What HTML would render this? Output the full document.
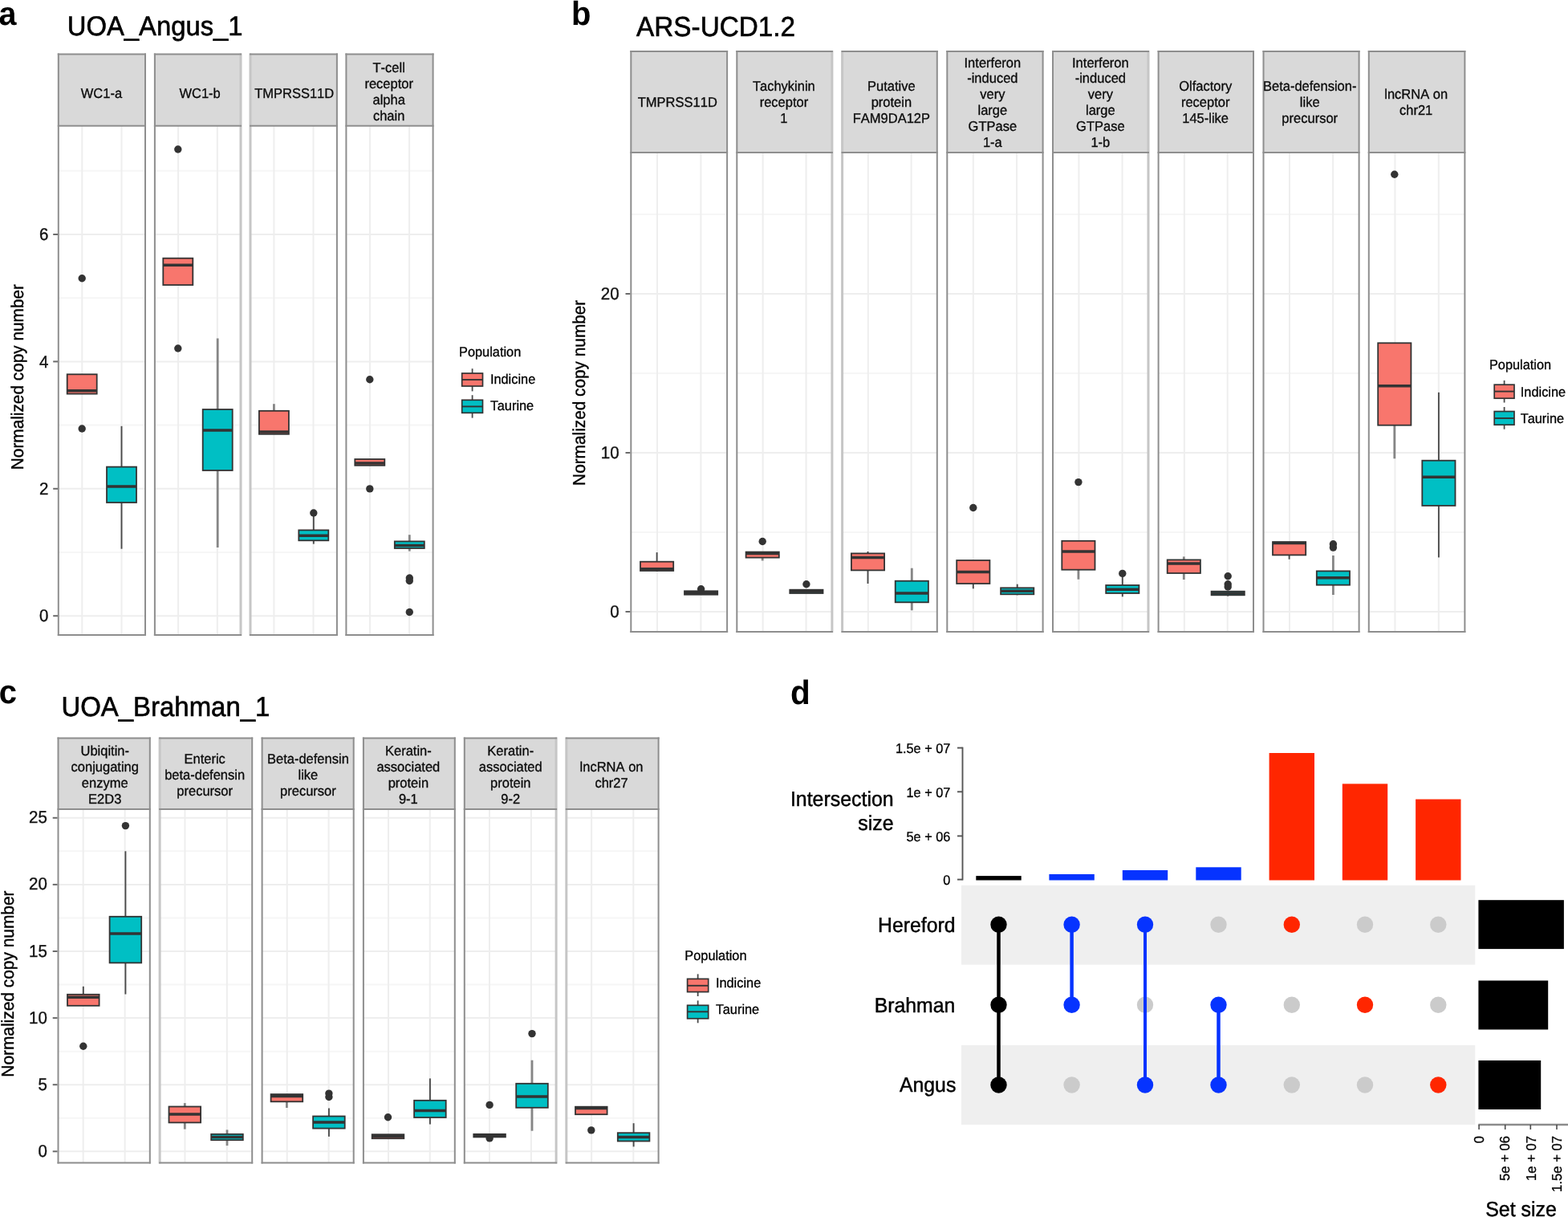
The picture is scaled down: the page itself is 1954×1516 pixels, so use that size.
<!DOCTYPE html>
<html lang="en">
<head>
<meta charset="utf-8">
<title>Figure: copy number variation and assembly intersections</title>
<style>
html,body{margin:0;padding:0;background:#ffffff;}
body{width:1954px;height:1516px;overflow:hidden;}
svg{display:block;font-family:"Liberation Sans", sans-serif;font-kerning:none;text-rendering:geometricPrecision;}
</style>
</head>
<body>
<svg width="1954" height="1516" viewBox="0 0 1954 1516">
<rect x="0" y="0" width="1954" height="1516" fill="#ffffff"/>
<g>
<g id="panel-a">
<text transform="translate(-1.50 30.60) scale(1 1.04)" font-size="39.5" text-anchor="start" font-weight="bold" fill="#000000">a</text>
<text transform="translate(83.80 44.00) scale(1 1.04)" font-size="32.8" text-anchor="start" fill="#000000" stroke="#000000" stroke-width="0.59">UOA_Angus_1</text>
<g>
<rect x="72.80" y="156.80" width="108.20" height="634.20" fill="#ffffff"/>
<line x1="72.80" x2="181.00" y1="688.00" y2="688.00" stroke="#f6f6f6" stroke-width="2"/>
<line x1="72.80" x2="181.00" y1="529.60" y2="529.60" stroke="#f6f6f6" stroke-width="2"/>
<line x1="72.80" x2="181.00" y1="371.20" y2="371.20" stroke="#f6f6f6" stroke-width="2"/>
<line x1="72.80" x2="181.00" y1="212.80" y2="212.80" stroke="#f6f6f6" stroke-width="2"/>
<line x1="72.80" x2="181.00" y1="767.20" y2="767.20" stroke="#eeeeee" stroke-width="2"/>
<line x1="72.80" x2="181.00" y1="608.80" y2="608.80" stroke="#eeeeee" stroke-width="2"/>
<line x1="72.80" x2="181.00" y1="450.40" y2="450.40" stroke="#eeeeee" stroke-width="2"/>
<line x1="72.80" x2="181.00" y1="292.00" y2="292.00" stroke="#eeeeee" stroke-width="2"/>
<line x1="102.31" x2="102.31" y1="156.80" y2="791.00" stroke="#eeeeee" stroke-width="2"/>
<line x1="151.49" x2="151.49" y1="156.80" y2="791.00" stroke="#eeeeee" stroke-width="2"/>
</g>
<g>
<rect x="192.90" y="156.80" width="107.10" height="634.20" fill="#ffffff"/>
<line x1="192.90" x2="300.00" y1="688.00" y2="688.00" stroke="#f6f6f6" stroke-width="2"/>
<line x1="192.90" x2="300.00" y1="529.60" y2="529.60" stroke="#f6f6f6" stroke-width="2"/>
<line x1="192.90" x2="300.00" y1="371.20" y2="371.20" stroke="#f6f6f6" stroke-width="2"/>
<line x1="192.90" x2="300.00" y1="212.80" y2="212.80" stroke="#f6f6f6" stroke-width="2"/>
<line x1="192.90" x2="300.00" y1="767.20" y2="767.20" stroke="#eeeeee" stroke-width="2"/>
<line x1="192.90" x2="300.00" y1="608.80" y2="608.80" stroke="#eeeeee" stroke-width="2"/>
<line x1="192.90" x2="300.00" y1="450.40" y2="450.40" stroke="#eeeeee" stroke-width="2"/>
<line x1="192.90" x2="300.00" y1="292.00" y2="292.00" stroke="#eeeeee" stroke-width="2"/>
<line x1="222.11" x2="222.11" y1="156.80" y2="791.00" stroke="#eeeeee" stroke-width="2"/>
<line x1="270.79" x2="270.79" y1="156.80" y2="791.00" stroke="#eeeeee" stroke-width="2"/>
</g>
<g>
<rect x="312.00" y="156.80" width="107.90" height="634.20" fill="#ffffff"/>
<line x1="312.00" x2="419.90" y1="688.00" y2="688.00" stroke="#f6f6f6" stroke-width="2"/>
<line x1="312.00" x2="419.90" y1="529.60" y2="529.60" stroke="#f6f6f6" stroke-width="2"/>
<line x1="312.00" x2="419.90" y1="371.20" y2="371.20" stroke="#f6f6f6" stroke-width="2"/>
<line x1="312.00" x2="419.90" y1="212.80" y2="212.80" stroke="#f6f6f6" stroke-width="2"/>
<line x1="312.00" x2="419.90" y1="767.20" y2="767.20" stroke="#eeeeee" stroke-width="2"/>
<line x1="312.00" x2="419.90" y1="608.80" y2="608.80" stroke="#eeeeee" stroke-width="2"/>
<line x1="312.00" x2="419.90" y1="450.40" y2="450.40" stroke="#eeeeee" stroke-width="2"/>
<line x1="312.00" x2="419.90" y1="292.00" y2="292.00" stroke="#eeeeee" stroke-width="2"/>
<line x1="341.42" x2="341.42" y1="156.80" y2="791.00" stroke="#eeeeee" stroke-width="2"/>
<line x1="390.48" x2="390.48" y1="156.80" y2="791.00" stroke="#eeeeee" stroke-width="2"/>
</g>
<g>
<rect x="431.40" y="156.80" width="108.20" height="634.20" fill="#ffffff"/>
<line x1="431.40" x2="539.60" y1="688.00" y2="688.00" stroke="#f6f6f6" stroke-width="2"/>
<line x1="431.40" x2="539.60" y1="529.60" y2="529.60" stroke="#f6f6f6" stroke-width="2"/>
<line x1="431.40" x2="539.60" y1="371.20" y2="371.20" stroke="#f6f6f6" stroke-width="2"/>
<line x1="431.40" x2="539.60" y1="212.80" y2="212.80" stroke="#f6f6f6" stroke-width="2"/>
<line x1="431.40" x2="539.60" y1="767.20" y2="767.20" stroke="#eeeeee" stroke-width="2"/>
<line x1="431.40" x2="539.60" y1="608.80" y2="608.80" stroke="#eeeeee" stroke-width="2"/>
<line x1="431.40" x2="539.60" y1="450.40" y2="450.40" stroke="#eeeeee" stroke-width="2"/>
<line x1="431.40" x2="539.60" y1="292.00" y2="292.00" stroke="#eeeeee" stroke-width="2"/>
<line x1="460.91" x2="460.91" y1="156.80" y2="791.00" stroke="#eeeeee" stroke-width="2"/>
<line x1="510.09" x2="510.09" y1="156.80" y2="791.00" stroke="#eeeeee" stroke-width="2"/>
</g>
<circle cx="102.20" cy="346.80" r="4.7" fill="#333333"/>
<circle cx="102.20" cy="534.00" r="4.7" fill="#333333"/>
<rect x="83.70" y="466.30" width="37.00" height="24.30" fill="#F8766D" stroke="#333333" stroke-width="1.8"/>
<line x1="83.70" x2="120.70" y1="486.70" y2="486.70" stroke="#333333" stroke-width="3.5"/>
<line x1="151.50" x2="151.50" y1="530.80" y2="581.60" stroke="#4a4a4a" stroke-width="1.9"/>
<line x1="151.50" x2="151.50" y1="626.00" y2="683.70" stroke="#4a4a4a" stroke-width="1.9"/>
<rect x="133.00" y="581.60" width="37.00" height="44.40" fill="#00BFC4" stroke="#333333" stroke-width="1.8"/>
<line x1="133.00" x2="170.00" y1="606.00" y2="606.00" stroke="#333333" stroke-width="3.5"/>
<circle cx="221.80" cy="186.00" r="4.7" fill="#333333"/>
<circle cx="221.80" cy="434.00" r="4.7" fill="#333333"/>
<rect x="203.30" y="321.70" width="37.00" height="33.30" fill="#F8766D" stroke="#333333" stroke-width="1.8"/>
<line x1="203.30" x2="240.30" y1="330.30" y2="330.30" stroke="#333333" stroke-width="3.5"/>
<line x1="271.20" x2="271.20" y1="421.50" y2="510.00" stroke="#868686" stroke-width="2.8"/>
<line x1="271.20" x2="271.20" y1="586.00" y2="682.00" stroke="#868686" stroke-width="2.8"/>
<rect x="252.70" y="510.00" width="37.00" height="76.00" fill="#00BFC4" stroke="#333333" stroke-width="1.8"/>
<line x1="252.70" x2="289.70" y1="536.10" y2="536.10" stroke="#333333" stroke-width="3.5"/>
<line x1="341.40" x2="341.40" y1="503.20" y2="511.80" stroke="#868686" stroke-width="2.8"/>
<rect x="322.90" y="511.80" width="37.00" height="29.00" fill="#F8766D" stroke="#333333" stroke-width="1.8"/>
<line x1="322.90" x2="359.90" y1="537.90" y2="537.90" stroke="#333333" stroke-width="3.5"/>
<line x1="390.80" x2="390.80" y1="639.00" y2="660.40" stroke="#4a4a4a" stroke-width="1.9"/>
<line x1="390.80" x2="390.80" y1="673.30" y2="677.60" stroke="#4a4a4a" stroke-width="1.9"/>
<circle cx="390.80" cy="639.00" r="4.7" fill="#333333"/>
<rect x="372.30" y="660.40" width="37.00" height="12.90" fill="#00BFC4" stroke="#333333" stroke-width="1.8"/>
<line x1="372.30" x2="409.30" y1="667.20" y2="667.20" stroke="#333333" stroke-width="3.5"/>
<circle cx="460.80" cy="472.70" r="4.7" fill="#333333"/>
<circle cx="460.80" cy="608.90" r="4.7" fill="#333333"/>
<rect x="442.30" y="572.00" width="37.00" height="7.80" fill="#F8766D" stroke="#333333" stroke-width="1.8"/>
<line x1="442.30" x2="479.30" y1="577.00" y2="577.00" stroke="#333333" stroke-width="3.5"/>
<line x1="510.30" x2="510.30" y1="666.20" y2="674.40" stroke="#868686" stroke-width="2.8"/>
<line x1="510.30" x2="510.30" y1="683.00" y2="686.60" stroke="#868686" stroke-width="2.8"/>
<circle cx="510.30" cy="720.00" r="4.7" fill="#333333"/>
<circle cx="510.30" cy="723.50" r="4.7" fill="#333333"/>
<circle cx="510.30" cy="762.50" r="4.7" fill="#333333"/>
<rect x="491.80" y="674.40" width="37.00" height="8.60" fill="#00BFC4" stroke="#333333" stroke-width="1.8"/>
<line x1="491.80" x2="528.80" y1="679.40" y2="679.40" stroke="#333333" stroke-width="3.5"/>
<rect x="72.80" y="67.40" width="108.20" height="89.40" fill="#d9d9d9"/>
<line x1="72.80" x2="72.80" y1="66.40" y2="792.00" stroke="#8e8e8e" stroke-width="2.0"/>
<line x1="181.00" x2="181.00" y1="66.40" y2="792.00" stroke="#8e8e8e" stroke-width="2.0"/>
<line x1="71.80" x2="182.00" y1="67.40" y2="67.40" stroke="#8e8e8e" stroke-width="2.0"/>
<line x1="71.80" x2="182.00" y1="156.80" y2="156.80" stroke="#8e8e8e" stroke-width="2.0"/>
<line x1="71.80" x2="182.00" y1="791.00" y2="791.00" stroke="#8e8e8e" stroke-width="2.0"/>
<text transform="translate(126.45 121.90) scale(1 1.04)" font-size="16.5" text-anchor="middle" fill="#0a0a0a" stroke="#0a0a0a" stroke-width="0.30">WC1-a</text>
<rect x="192.90" y="67.40" width="107.10" height="89.40" fill="#d9d9d9"/>
<line x1="192.90" x2="192.90" y1="66.40" y2="792.00" stroke="#8e8e8e" stroke-width="2.0"/>
<line x1="300.00" x2="300.00" y1="66.40" y2="792.00" stroke="#c6c6c6" stroke-width="3.0"/>
<line x1="191.90" x2="301.00" y1="67.40" y2="67.40" stroke="#8e8e8e" stroke-width="2.0"/>
<line x1="191.90" x2="301.00" y1="156.80" y2="156.80" stroke="#8e8e8e" stroke-width="2.0"/>
<line x1="191.90" x2="301.00" y1="791.00" y2="791.00" stroke="#8e8e8e" stroke-width="2.0"/>
<text transform="translate(249.10 121.90) scale(1 1.04)" font-size="16.5" text-anchor="middle" fill="#0a0a0a" stroke="#0a0a0a" stroke-width="0.30">WC1-b</text>
<rect x="312.00" y="67.40" width="107.90" height="89.40" fill="#d9d9d9"/>
<line x1="312.00" x2="312.00" y1="66.40" y2="792.00" stroke="#c6c6c6" stroke-width="3.0"/>
<line x1="419.90" x2="419.90" y1="66.40" y2="792.00" stroke="#8e8e8e" stroke-width="2.0"/>
<line x1="311.00" x2="420.90" y1="67.40" y2="67.40" stroke="#8e8e8e" stroke-width="2.0"/>
<line x1="311.00" x2="420.90" y1="156.80" y2="156.80" stroke="#8e8e8e" stroke-width="2.0"/>
<line x1="311.00" x2="420.90" y1="791.00" y2="791.00" stroke="#8e8e8e" stroke-width="2.0"/>
<text transform="translate(366.70 121.90) scale(1 1.04)" font-size="16.5" text-anchor="middle" fill="#0a0a0a" stroke="#0a0a0a" stroke-width="0.30">TMPRSS11D</text>
<rect x="431.40" y="67.40" width="108.20" height="89.40" fill="#d9d9d9"/>
<line x1="431.40" x2="431.40" y1="66.40" y2="792.00" stroke="#8e8e8e" stroke-width="2.0"/>
<line x1="539.60" x2="539.60" y1="66.40" y2="792.00" stroke="#8e8e8e" stroke-width="2.0"/>
<line x1="430.40" x2="540.60" y1="67.40" y2="67.40" stroke="#8e8e8e" stroke-width="2.0"/>
<line x1="430.40" x2="540.60" y1="156.80" y2="156.80" stroke="#8e8e8e" stroke-width="2.0"/>
<line x1="430.40" x2="540.60" y1="791.00" y2="791.00" stroke="#8e8e8e" stroke-width="2.0"/>
<text transform="translate(484.65 89.76) scale(1 1.04)" font-size="16.5" text-anchor="middle" fill="#0a0a0a" stroke="#0a0a0a" stroke-width="0.30">T-cell</text>
<text transform="translate(484.65 109.72) scale(1 1.04)" font-size="16.5" text-anchor="middle" fill="#0a0a0a" stroke="#0a0a0a" stroke-width="0.30">receptor</text>
<text transform="translate(484.65 129.68) scale(1 1.04)" font-size="16.5" text-anchor="middle" fill="#0a0a0a" stroke="#0a0a0a" stroke-width="0.30">alpha</text>
<text transform="translate(484.65 149.64) scale(1 1.04)" font-size="16.5" text-anchor="middle" fill="#0a0a0a" stroke="#0a0a0a" stroke-width="0.30">chain</text>
<line x1="66.20" x2="72.00" y1="767.20" y2="767.20" stroke="#6a6a6a" stroke-width="2"/>
<text transform="translate(60.30 774.35) scale(1 1.04)" font-size="20.5" text-anchor="end" fill="#111111" stroke="#111111" stroke-width="0.37">0</text>
<line x1="66.20" x2="72.00" y1="608.80" y2="608.80" stroke="#6a6a6a" stroke-width="2"/>
<text transform="translate(60.30 615.95) scale(1 1.04)" font-size="20.5" text-anchor="end" fill="#111111" stroke="#111111" stroke-width="0.37">2</text>
<line x1="66.20" x2="72.00" y1="450.40" y2="450.40" stroke="#6a6a6a" stroke-width="2"/>
<text transform="translate(60.30 457.55) scale(1 1.04)" font-size="20.5" text-anchor="end" fill="#111111" stroke="#111111" stroke-width="0.37">4</text>
<line x1="66.20" x2="72.00" y1="292.00" y2="292.00" stroke="#6a6a6a" stroke-width="2"/>
<text transform="translate(60.30 299.15) scale(1 1.04)" font-size="20.5" text-anchor="end" fill="#111111" stroke="#111111" stroke-width="0.37">6</text>
<text transform="translate(28.50 469.60) rotate(-90) scale(1 1.04)" font-size="20.8" text-anchor="middle" fill="#000000" stroke="#000000" stroke-width="0.37">Normalized copy number</text>
<text transform="translate(572.00 443.70) scale(1 1.04)" font-size="16.35" text-anchor="start" fill="#000000" stroke="#000000" stroke-width="0.29">Population</text>
<line x1="588.60" x2="588.60" y1="459.20" y2="487.40" stroke="#4a4a4a" stroke-width="1.8"/>
<rect x="575.70" y="465.00" width="25.80" height="16.00" fill="#F8766D" stroke="#333333" stroke-width="1.7"/>
<line x1="575.70" x2="601.50" y1="473.00" y2="473.00" stroke="#333333" stroke-width="1.9"/>
<text transform="translate(610.90 478.00) scale(1 1.04)" font-size="16.35" text-anchor="start" fill="#000000" stroke="#000000" stroke-width="0.29">Indicine</text>
<line x1="588.60" x2="588.60" y1="492.20" y2="520.60" stroke="#4a4a4a" stroke-width="1.8"/>
<rect x="575.70" y="498.30" width="25.80" height="16.00" fill="#00BFC4" stroke="#333333" stroke-width="1.7"/>
<line x1="575.70" x2="601.50" y1="506.40" y2="506.40" stroke="#333333" stroke-width="1.9"/>
<text transform="translate(610.90 511.00) scale(1 1.04)" font-size="16.35" text-anchor="start" fill="#000000" stroke="#000000" stroke-width="0.29" dx="0 -1.1">Taurine</text>
</g>
<g id="panel-b">
<text transform="translate(712.00 30.60) scale(1 1.04)" font-size="40" text-anchor="start" font-weight="bold" fill="#000000">b</text>
<text transform="translate(793.10 45.30) scale(1 1.04)" font-size="33.3" text-anchor="start" fill="#000000" stroke="#000000" stroke-width="0.60">ARS-UCD1.2</text>
<g>
<rect x="786.30" y="190.00" width="119.80" height="596.90" fill="#ffffff"/>
<line x1="786.30" x2="906.10" y1="663.00" y2="663.00" stroke="#f6f6f6" stroke-width="2"/>
<line x1="786.30" x2="906.10" y1="465.00" y2="465.00" stroke="#f6f6f6" stroke-width="2"/>
<line x1="786.30" x2="906.10" y1="267.00" y2="267.00" stroke="#f6f6f6" stroke-width="2"/>
<line x1="786.30" x2="906.10" y1="762.00" y2="762.00" stroke="#eeeeee" stroke-width="2"/>
<line x1="786.30" x2="906.10" y1="564.00" y2="564.00" stroke="#eeeeee" stroke-width="2"/>
<line x1="786.30" x2="906.10" y1="366.00" y2="366.00" stroke="#eeeeee" stroke-width="2"/>
<line x1="818.97" x2="818.97" y1="190.00" y2="786.90" stroke="#eeeeee" stroke-width="2"/>
<line x1="873.43" x2="873.43" y1="190.00" y2="786.90" stroke="#eeeeee" stroke-width="2"/>
</g>
<g>
<rect x="918.30" y="190.00" width="118.60" height="596.90" fill="#ffffff"/>
<line x1="918.30" x2="1036.90" y1="663.00" y2="663.00" stroke="#f6f6f6" stroke-width="2"/>
<line x1="918.30" x2="1036.90" y1="465.00" y2="465.00" stroke="#f6f6f6" stroke-width="2"/>
<line x1="918.30" x2="1036.90" y1="267.00" y2="267.00" stroke="#f6f6f6" stroke-width="2"/>
<line x1="918.30" x2="1036.90" y1="762.00" y2="762.00" stroke="#eeeeee" stroke-width="2"/>
<line x1="918.30" x2="1036.90" y1="564.00" y2="564.00" stroke="#eeeeee" stroke-width="2"/>
<line x1="918.30" x2="1036.90" y1="366.00" y2="366.00" stroke="#eeeeee" stroke-width="2"/>
<line x1="950.64" x2="950.64" y1="190.00" y2="786.90" stroke="#eeeeee" stroke-width="2"/>
<line x1="1004.56" x2="1004.56" y1="190.00" y2="786.90" stroke="#eeeeee" stroke-width="2"/>
</g>
<g>
<rect x="1049.60" y="190.00" width="118.20" height="596.90" fill="#ffffff"/>
<line x1="1049.60" x2="1167.80" y1="663.00" y2="663.00" stroke="#f6f6f6" stroke-width="2"/>
<line x1="1049.60" x2="1167.80" y1="465.00" y2="465.00" stroke="#f6f6f6" stroke-width="2"/>
<line x1="1049.60" x2="1167.80" y1="267.00" y2="267.00" stroke="#f6f6f6" stroke-width="2"/>
<line x1="1049.60" x2="1167.80" y1="762.00" y2="762.00" stroke="#eeeeee" stroke-width="2"/>
<line x1="1049.60" x2="1167.80" y1="564.00" y2="564.00" stroke="#eeeeee" stroke-width="2"/>
<line x1="1049.60" x2="1167.80" y1="366.00" y2="366.00" stroke="#eeeeee" stroke-width="2"/>
<line x1="1081.83" x2="1081.83" y1="190.00" y2="786.90" stroke="#eeeeee" stroke-width="2"/>
<line x1="1135.57" x2="1135.57" y1="190.00" y2="786.90" stroke="#eeeeee" stroke-width="2"/>
</g>
<g>
<rect x="1180.30" y="190.00" width="119.30" height="596.90" fill="#ffffff"/>
<line x1="1180.30" x2="1299.60" y1="663.00" y2="663.00" stroke="#f6f6f6" stroke-width="2"/>
<line x1="1180.30" x2="1299.60" y1="465.00" y2="465.00" stroke="#f6f6f6" stroke-width="2"/>
<line x1="1180.30" x2="1299.60" y1="267.00" y2="267.00" stroke="#f6f6f6" stroke-width="2"/>
<line x1="1180.30" x2="1299.60" y1="762.00" y2="762.00" stroke="#eeeeee" stroke-width="2"/>
<line x1="1180.30" x2="1299.60" y1="564.00" y2="564.00" stroke="#eeeeee" stroke-width="2"/>
<line x1="1180.30" x2="1299.60" y1="366.00" y2="366.00" stroke="#eeeeee" stroke-width="2"/>
<line x1="1212.83" x2="1212.83" y1="190.00" y2="786.90" stroke="#eeeeee" stroke-width="2"/>
<line x1="1267.07" x2="1267.07" y1="190.00" y2="786.90" stroke="#eeeeee" stroke-width="2"/>
</g>
<g>
<rect x="1312.00" y="190.00" width="119.00" height="596.90" fill="#ffffff"/>
<line x1="1312.00" x2="1431.00" y1="663.00" y2="663.00" stroke="#f6f6f6" stroke-width="2"/>
<line x1="1312.00" x2="1431.00" y1="465.00" y2="465.00" stroke="#f6f6f6" stroke-width="2"/>
<line x1="1312.00" x2="1431.00" y1="267.00" y2="267.00" stroke="#f6f6f6" stroke-width="2"/>
<line x1="1312.00" x2="1431.00" y1="762.00" y2="762.00" stroke="#eeeeee" stroke-width="2"/>
<line x1="1312.00" x2="1431.00" y1="564.00" y2="564.00" stroke="#eeeeee" stroke-width="2"/>
<line x1="1312.00" x2="1431.00" y1="366.00" y2="366.00" stroke="#eeeeee" stroke-width="2"/>
<line x1="1344.45" x2="1344.45" y1="190.00" y2="786.90" stroke="#eeeeee" stroke-width="2"/>
<line x1="1398.55" x2="1398.55" y1="190.00" y2="786.90" stroke="#eeeeee" stroke-width="2"/>
</g>
<g>
<rect x="1443.60" y="190.00" width="118.40" height="596.90" fill="#ffffff"/>
<line x1="1443.60" x2="1562.00" y1="663.00" y2="663.00" stroke="#f6f6f6" stroke-width="2"/>
<line x1="1443.60" x2="1562.00" y1="465.00" y2="465.00" stroke="#f6f6f6" stroke-width="2"/>
<line x1="1443.60" x2="1562.00" y1="267.00" y2="267.00" stroke="#f6f6f6" stroke-width="2"/>
<line x1="1443.60" x2="1562.00" y1="762.00" y2="762.00" stroke="#eeeeee" stroke-width="2"/>
<line x1="1443.60" x2="1562.00" y1="564.00" y2="564.00" stroke="#eeeeee" stroke-width="2"/>
<line x1="1443.60" x2="1562.00" y1="366.00" y2="366.00" stroke="#eeeeee" stroke-width="2"/>
<line x1="1475.89" x2="1475.89" y1="190.00" y2="786.90" stroke="#eeeeee" stroke-width="2"/>
<line x1="1529.71" x2="1529.71" y1="190.00" y2="786.90" stroke="#eeeeee" stroke-width="2"/>
</g>
<g>
<rect x="1574.50" y="190.00" width="119.10" height="596.90" fill="#ffffff"/>
<line x1="1574.50" x2="1693.60" y1="663.00" y2="663.00" stroke="#f6f6f6" stroke-width="2"/>
<line x1="1574.50" x2="1693.60" y1="465.00" y2="465.00" stroke="#f6f6f6" stroke-width="2"/>
<line x1="1574.50" x2="1693.60" y1="267.00" y2="267.00" stroke="#f6f6f6" stroke-width="2"/>
<line x1="1574.50" x2="1693.60" y1="762.00" y2="762.00" stroke="#eeeeee" stroke-width="2"/>
<line x1="1574.50" x2="1693.60" y1="564.00" y2="564.00" stroke="#eeeeee" stroke-width="2"/>
<line x1="1574.50" x2="1693.60" y1="366.00" y2="366.00" stroke="#eeeeee" stroke-width="2"/>
<line x1="1606.98" x2="1606.98" y1="190.00" y2="786.90" stroke="#eeeeee" stroke-width="2"/>
<line x1="1661.12" x2="1661.12" y1="190.00" y2="786.90" stroke="#eeeeee" stroke-width="2"/>
</g>
<g>
<rect x="1705.80" y="190.00" width="119.60" height="596.90" fill="#ffffff"/>
<line x1="1705.80" x2="1825.40" y1="663.00" y2="663.00" stroke="#f6f6f6" stroke-width="2"/>
<line x1="1705.80" x2="1825.40" y1="465.00" y2="465.00" stroke="#f6f6f6" stroke-width="2"/>
<line x1="1705.80" x2="1825.40" y1="267.00" y2="267.00" stroke="#f6f6f6" stroke-width="2"/>
<line x1="1705.80" x2="1825.40" y1="762.00" y2="762.00" stroke="#eeeeee" stroke-width="2"/>
<line x1="1705.80" x2="1825.40" y1="564.00" y2="564.00" stroke="#eeeeee" stroke-width="2"/>
<line x1="1705.80" x2="1825.40" y1="366.00" y2="366.00" stroke="#eeeeee" stroke-width="2"/>
<line x1="1738.41" x2="1738.41" y1="190.00" y2="786.90" stroke="#eeeeee" stroke-width="2"/>
<line x1="1792.79" x2="1792.79" y1="190.00" y2="786.90" stroke="#eeeeee" stroke-width="2"/>
</g>
<line x1="818.60" x2="818.60" y1="688.10" y2="699.70" stroke="#4a4a4a" stroke-width="1.9"/>
<line x1="818.60" x2="818.60" y1="711.00" y2="712.00" stroke="#4a4a4a" stroke-width="1.9"/>
<rect x="798.00" y="699.70" width="41.20" height="11.30" fill="#F8766D" stroke="#333333" stroke-width="1.8"/>
<line x1="798.00" x2="839.20" y1="708.70" y2="708.70" stroke="#333333" stroke-width="3.5"/>
<circle cx="873.60" cy="733.70" r="4.7" fill="#333333"/>
<rect x="853.00" y="736.30" width="41.20" height="4.40" fill="#00BFC4" stroke="#333333" stroke-width="1.8"/>
<line x1="853.00" x2="894.20" y1="738.30" y2="738.30" stroke="#333333" stroke-width="3.5"/>
<line x1="950.20" x2="950.20" y1="694.60" y2="698.40" stroke="#868686" stroke-width="2.8"/>
<circle cx="950.20" cy="674.50" r="4.7" fill="#333333"/>
<rect x="929.60" y="687.60" width="41.20" height="7.00" fill="#F8766D" stroke="#333333" stroke-width="1.8"/>
<line x1="929.60" x2="970.80" y1="689.60" y2="689.60" stroke="#333333" stroke-width="3.5"/>
<circle cx="1004.90" cy="727.70" r="4.7" fill="#333333"/>
<rect x="984.30" y="734.70" width="41.20" height="4.30" fill="#00BFC4" stroke="#333333" stroke-width="1.8"/>
<line x1="984.30" x2="1025.50" y1="736.70" y2="736.70" stroke="#333333" stroke-width="3.5"/>
<line x1="1081.50" x2="1081.50" y1="687.00" y2="689.40" stroke="#4a4a4a" stroke-width="1.9"/>
<line x1="1081.50" x2="1081.50" y1="710.40" y2="727.00" stroke="#4a4a4a" stroke-width="1.9"/>
<rect x="1060.90" y="689.40" width="41.20" height="21.00" fill="#F8766D" stroke="#333333" stroke-width="1.8"/>
<line x1="1060.90" x2="1102.10" y1="694.40" y2="694.40" stroke="#333333" stroke-width="3.5"/>
<line x1="1136.30" x2="1136.30" y1="707.70" y2="723.70" stroke="#868686" stroke-width="2.8"/>
<line x1="1136.30" x2="1136.30" y1="750.30" y2="760.30" stroke="#868686" stroke-width="2.8"/>
<rect x="1115.70" y="723.70" width="41.20" height="26.60" fill="#00BFC4" stroke="#333333" stroke-width="1.8"/>
<line x1="1115.70" x2="1156.90" y1="739.00" y2="739.00" stroke="#333333" stroke-width="3.5"/>
<line x1="1212.80" x2="1212.80" y1="727.00" y2="733.30" stroke="#4a4a4a" stroke-width="1.9"/>
<circle cx="1212.80" cy="632.50" r="4.7" fill="#333333"/>
<rect x="1192.20" y="698.00" width="41.20" height="29.00" fill="#F8766D" stroke="#333333" stroke-width="1.8"/>
<line x1="1192.20" x2="1233.40" y1="712.40" y2="712.40" stroke="#333333" stroke-width="3.5"/>
<line x1="1267.70" x2="1267.70" y1="727.70" y2="732.30" stroke="#4a4a4a" stroke-width="1.9"/>
<line x1="1267.70" x2="1267.70" y1="740.30" y2="741.30" stroke="#4a4a4a" stroke-width="1.9"/>
<rect x="1247.10" y="732.30" width="41.20" height="8.00" fill="#00BFC4" stroke="#333333" stroke-width="1.8"/>
<line x1="1247.10" x2="1288.30" y1="736.30" y2="736.30" stroke="#333333" stroke-width="3.5"/>
<line x1="1343.90" x2="1343.90" y1="709.70" y2="721.70" stroke="#868686" stroke-width="2.8"/>
<circle cx="1343.90" cy="600.60" r="4.7" fill="#333333"/>
<rect x="1323.30" y="673.80" width="41.20" height="35.90" fill="#F8766D" stroke="#333333" stroke-width="1.8"/>
<line x1="1323.30" x2="1364.50" y1="687.10" y2="687.10" stroke="#333333" stroke-width="3.5"/>
<line x1="1398.80" x2="1398.80" y1="714.40" y2="729.00" stroke="#4a4a4a" stroke-width="1.9"/>
<line x1="1398.80" x2="1398.80" y1="739.00" y2="743.30" stroke="#4a4a4a" stroke-width="1.9"/>
<circle cx="1398.80" cy="714.40" r="4.7" fill="#333333"/>
<rect x="1378.20" y="729.00" width="41.20" height="10.00" fill="#00BFC4" stroke="#333333" stroke-width="1.8"/>
<line x1="1378.20" x2="1419.40" y1="734.30" y2="734.30" stroke="#333333" stroke-width="3.5"/>
<line x1="1475.30" x2="1475.30" y1="693.40" y2="697.40" stroke="#868686" stroke-width="2.8"/>
<line x1="1475.30" x2="1475.30" y1="714.00" y2="722.00" stroke="#868686" stroke-width="2.8"/>
<rect x="1454.70" y="697.40" width="41.20" height="16.60" fill="#F8766D" stroke="#333333" stroke-width="1.8"/>
<line x1="1454.70" x2="1495.90" y1="702.00" y2="702.00" stroke="#333333" stroke-width="3.5"/>
<line x1="1530.20" x2="1530.20" y1="741.30" y2="742.60" stroke="#4a4a4a" stroke-width="1.9"/>
<circle cx="1530.20" cy="717.70" r="4.7" fill="#333333"/>
<circle cx="1530.20" cy="727.70" r="4.7" fill="#333333"/>
<circle cx="1530.20" cy="731.00" r="4.7" fill="#333333"/>
<rect x="1509.60" y="736.70" width="41.20" height="4.60" fill="#00BFC4" stroke="#333333" stroke-width="1.8"/>
<line x1="1509.60" x2="1550.80" y1="739.00" y2="739.00" stroke="#333333" stroke-width="3.5"/>
<line x1="1606.60" x2="1606.60" y1="691.40" y2="696.70" stroke="#4a4a4a" stroke-width="1.9"/>
<rect x="1586.00" y="675.10" width="41.20" height="16.30" fill="#F8766D" stroke="#333333" stroke-width="1.8"/>
<line x1="1586.00" x2="1627.20" y1="676.40" y2="676.40" stroke="#333333" stroke-width="3.5"/>
<line x1="1661.40" x2="1661.40" y1="692.00" y2="711.40" stroke="#868686" stroke-width="2.8"/>
<line x1="1661.40" x2="1661.40" y1="728.70" y2="741.00" stroke="#868686" stroke-width="2.8"/>
<circle cx="1661.40" cy="677.80" r="4.7" fill="#333333"/>
<circle cx="1661.40" cy="682.10" r="4.7" fill="#333333"/>
<rect x="1640.80" y="711.40" width="41.20" height="17.30" fill="#00BFC4" stroke="#333333" stroke-width="1.8"/>
<line x1="1640.80" x2="1682.00" y1="719.70" y2="719.70" stroke="#333333" stroke-width="3.5"/>
<line x1="1737.80" x2="1737.80" y1="529.70" y2="571.30" stroke="#868686" stroke-width="2.8"/>
<circle cx="1737.80" cy="217.20" r="4.7" fill="#333333"/>
<rect x="1717.20" y="427.30" width="41.20" height="102.40" fill="#F8766D" stroke="#333333" stroke-width="1.8"/>
<line x1="1717.20" x2="1758.40" y1="480.80" y2="480.80" stroke="#333333" stroke-width="3.5"/>
<line x1="1792.90" x2="1792.90" y1="488.80" y2="573.70" stroke="#4a4a4a" stroke-width="1.9"/>
<line x1="1792.90" x2="1792.90" y1="629.90" y2="694.40" stroke="#4a4a4a" stroke-width="1.9"/>
<rect x="1772.30" y="573.70" width="41.20" height="56.20" fill="#00BFC4" stroke="#333333" stroke-width="1.8"/>
<line x1="1772.30" x2="1813.50" y1="594.30" y2="594.30" stroke="#333333" stroke-width="3.5"/>
<rect x="786.30" y="64.00" width="119.80" height="126.00" fill="#d9d9d9"/>
<line x1="786.30" x2="786.30" y1="63.00" y2="787.90" stroke="#8e8e8e" stroke-width="2.0"/>
<line x1="906.10" x2="906.10" y1="63.00" y2="787.90" stroke="#8e8e8e" stroke-width="2.0"/>
<line x1="785.30" x2="907.10" y1="64.00" y2="64.00" stroke="#8e8e8e" stroke-width="2.0"/>
<line x1="785.30" x2="907.10" y1="190.00" y2="190.00" stroke="#8e8e8e" stroke-width="2.0"/>
<line x1="785.30" x2="907.10" y1="786.90" y2="786.90" stroke="#8e8e8e" stroke-width="2.0"/>
<text transform="translate(844.30 133.40) scale(1 1.04)" font-size="16.5" text-anchor="middle" fill="#0a0a0a" stroke="#0a0a0a" stroke-width="0.30">TMPRSS11D</text>
<rect x="918.30" y="64.00" width="118.60" height="126.00" fill="#d9d9d9"/>
<line x1="918.30" x2="918.30" y1="63.00" y2="787.90" stroke="#8e8e8e" stroke-width="2.0"/>
<line x1="1036.90" x2="1036.90" y1="63.00" y2="787.90" stroke="#c6c6c6" stroke-width="3.0"/>
<line x1="917.30" x2="1037.90" y1="64.00" y2="64.00" stroke="#8e8e8e" stroke-width="2.0"/>
<line x1="917.30" x2="1037.90" y1="190.00" y2="190.00" stroke="#8e8e8e" stroke-width="2.0"/>
<line x1="917.30" x2="1037.90" y1="786.90" y2="786.90" stroke="#8e8e8e" stroke-width="2.0"/>
<text transform="translate(976.90 113.44) scale(1 1.04)" font-size="16.5" text-anchor="middle" fill="#0a0a0a" stroke="#0a0a0a" stroke-width="0.30" dx="0 -1.1">Tachykinin</text>
<text transform="translate(976.90 133.40) scale(1 1.04)" font-size="16.5" text-anchor="middle" fill="#0a0a0a" stroke="#0a0a0a" stroke-width="0.30">receptor</text>
<text transform="translate(976.90 153.36) scale(1 1.04)" font-size="16.5" text-anchor="middle" fill="#0a0a0a" stroke="#0a0a0a" stroke-width="0.30">1</text>
<rect x="1049.60" y="64.00" width="118.20" height="126.00" fill="#d9d9d9"/>
<line x1="1049.60" x2="1049.60" y1="63.00" y2="787.90" stroke="#c6c6c6" stroke-width="3.0"/>
<line x1="1167.80" x2="1167.80" y1="63.00" y2="787.90" stroke="#8e8e8e" stroke-width="2.0"/>
<line x1="1048.60" x2="1168.80" y1="64.00" y2="64.00" stroke="#8e8e8e" stroke-width="2.0"/>
<line x1="1048.60" x2="1168.80" y1="190.00" y2="190.00" stroke="#8e8e8e" stroke-width="2.0"/>
<line x1="1048.60" x2="1168.80" y1="786.90" y2="786.90" stroke="#8e8e8e" stroke-width="2.0"/>
<text transform="translate(1110.85 113.44) scale(1 1.04)" font-size="16.5" text-anchor="middle" fill="#0a0a0a" stroke="#0a0a0a" stroke-width="0.30">Putative</text>
<text transform="translate(1110.85 133.40) scale(1 1.04)" font-size="16.5" text-anchor="middle" fill="#0a0a0a" stroke="#0a0a0a" stroke-width="0.30">protein</text>
<text transform="translate(1110.85 153.36) scale(1 1.04)" font-size="16.5" text-anchor="middle" fill="#0a0a0a" stroke="#0a0a0a" stroke-width="0.30">FAM9DA12P</text>
<rect x="1180.30" y="64.00" width="119.30" height="126.00" fill="#d9d9d9"/>
<line x1="1180.30" x2="1180.30" y1="63.00" y2="787.90" stroke="#8e8e8e" stroke-width="2.0"/>
<line x1="1299.60" x2="1299.60" y1="63.00" y2="787.90" stroke="#8e8e8e" stroke-width="2.0"/>
<line x1="1179.30" x2="1300.60" y1="64.00" y2="64.00" stroke="#8e8e8e" stroke-width="2.0"/>
<line x1="1179.30" x2="1300.60" y1="190.00" y2="190.00" stroke="#8e8e8e" stroke-width="2.0"/>
<line x1="1179.30" x2="1300.60" y1="786.90" y2="786.90" stroke="#8e8e8e" stroke-width="2.0"/>
<text transform="translate(1236.85 83.50) scale(1 1.04)" font-size="16.5" text-anchor="middle" fill="#0a0a0a" stroke="#0a0a0a" stroke-width="0.30">Interferon</text>
<text transform="translate(1236.85 103.46) scale(1 1.04)" font-size="16.5" text-anchor="middle" fill="#0a0a0a" stroke="#0a0a0a" stroke-width="0.30">-induced</text>
<text transform="translate(1236.85 123.42) scale(1 1.04)" font-size="16.5" text-anchor="middle" fill="#0a0a0a" stroke="#0a0a0a" stroke-width="0.30">very</text>
<text transform="translate(1236.85 143.38) scale(1 1.04)" font-size="16.5" text-anchor="middle" fill="#0a0a0a" stroke="#0a0a0a" stroke-width="0.30">large</text>
<text transform="translate(1236.85 163.34) scale(1 1.04)" font-size="16.5" text-anchor="middle" fill="#0a0a0a" stroke="#0a0a0a" stroke-width="0.30">GTPase</text>
<text transform="translate(1236.85 183.30) scale(1 1.04)" font-size="16.5" text-anchor="middle" fill="#0a0a0a" stroke="#0a0a0a" stroke-width="0.30">1-a</text>
<rect x="1312.00" y="64.00" width="119.00" height="126.00" fill="#d9d9d9"/>
<line x1="1312.00" x2="1312.00" y1="63.00" y2="787.90" stroke="#8e8e8e" stroke-width="2.0"/>
<line x1="1431.00" x2="1431.00" y1="63.00" y2="787.90" stroke="#c6c6c6" stroke-width="3.0"/>
<line x1="1311.00" x2="1432.00" y1="64.00" y2="64.00" stroke="#8e8e8e" stroke-width="2.0"/>
<line x1="1311.00" x2="1432.00" y1="190.00" y2="190.00" stroke="#8e8e8e" stroke-width="2.0"/>
<line x1="1311.00" x2="1432.00" y1="786.90" y2="786.90" stroke="#8e8e8e" stroke-width="2.0"/>
<text transform="translate(1371.35 83.50) scale(1 1.04)" font-size="16.5" text-anchor="middle" fill="#0a0a0a" stroke="#0a0a0a" stroke-width="0.30">Interferon</text>
<text transform="translate(1371.35 103.46) scale(1 1.04)" font-size="16.5" text-anchor="middle" fill="#0a0a0a" stroke="#0a0a0a" stroke-width="0.30">-induced</text>
<text transform="translate(1371.35 123.42) scale(1 1.04)" font-size="16.5" text-anchor="middle" fill="#0a0a0a" stroke="#0a0a0a" stroke-width="0.30">very</text>
<text transform="translate(1371.35 143.38) scale(1 1.04)" font-size="16.5" text-anchor="middle" fill="#0a0a0a" stroke="#0a0a0a" stroke-width="0.30">large</text>
<text transform="translate(1371.35 163.34) scale(1 1.04)" font-size="16.5" text-anchor="middle" fill="#0a0a0a" stroke="#0a0a0a" stroke-width="0.30">GTPase</text>
<text transform="translate(1371.35 183.30) scale(1 1.04)" font-size="16.5" text-anchor="middle" fill="#0a0a0a" stroke="#0a0a0a" stroke-width="0.30">1-b</text>
<rect x="1443.60" y="64.00" width="118.40" height="126.00" fill="#d9d9d9"/>
<line x1="1443.60" x2="1443.60" y1="63.00" y2="787.90" stroke="#8e8e8e" stroke-width="2.0"/>
<line x1="1562.00" x2="1562.00" y1="63.00" y2="787.90" stroke="#8e8e8e" stroke-width="2.0"/>
<line x1="1442.60" x2="1563.00" y1="64.00" y2="64.00" stroke="#8e8e8e" stroke-width="2.0"/>
<line x1="1442.60" x2="1563.00" y1="190.00" y2="190.00" stroke="#8e8e8e" stroke-width="2.0"/>
<line x1="1442.60" x2="1563.00" y1="786.90" y2="786.90" stroke="#8e8e8e" stroke-width="2.0"/>
<text transform="translate(1502.15 113.44) scale(1 1.04)" font-size="16.5" text-anchor="middle" fill="#0a0a0a" stroke="#0a0a0a" stroke-width="0.30">Olfactory</text>
<text transform="translate(1502.15 133.40) scale(1 1.04)" font-size="16.5" text-anchor="middle" fill="#0a0a0a" stroke="#0a0a0a" stroke-width="0.30">receptor</text>
<text transform="translate(1502.15 153.36) scale(1 1.04)" font-size="16.5" text-anchor="middle" fill="#0a0a0a" stroke="#0a0a0a" stroke-width="0.30">145-like</text>
<rect x="1574.50" y="64.00" width="119.10" height="126.00" fill="#d9d9d9"/>
<line x1="1574.50" x2="1574.50" y1="63.00" y2="787.90" stroke="#8e8e8e" stroke-width="2.0"/>
<line x1="1693.60" x2="1693.60" y1="63.00" y2="787.90" stroke="#8e8e8e" stroke-width="2.0"/>
<line x1="1573.50" x2="1694.60" y1="64.00" y2="64.00" stroke="#8e8e8e" stroke-width="2.0"/>
<line x1="1573.50" x2="1694.60" y1="190.00" y2="190.00" stroke="#8e8e8e" stroke-width="2.0"/>
<line x1="1573.50" x2="1694.60" y1="786.90" y2="786.90" stroke="#8e8e8e" stroke-width="2.0"/>
<text transform="translate(1632.20 113.44) scale(1 1.04)" font-size="16.5" text-anchor="middle" fill="#0a0a0a" stroke="#0a0a0a" stroke-width="0.30">Beta-defension-</text>
<text transform="translate(1632.20 133.40) scale(1 1.04)" font-size="16.5" text-anchor="middle" fill="#0a0a0a" stroke="#0a0a0a" stroke-width="0.30">like</text>
<text transform="translate(1632.20 153.36) scale(1 1.04)" font-size="16.5" text-anchor="middle" fill="#0a0a0a" stroke="#0a0a0a" stroke-width="0.30">precursor</text>
<rect x="1705.80" y="64.00" width="119.60" height="126.00" fill="#d9d9d9"/>
<line x1="1705.80" x2="1705.80" y1="63.00" y2="787.90" stroke="#8e8e8e" stroke-width="2.0"/>
<line x1="1825.40" x2="1825.40" y1="63.00" y2="787.90" stroke="#8e8e8e" stroke-width="2.0"/>
<line x1="1704.80" x2="1826.40" y1="64.00" y2="64.00" stroke="#8e8e8e" stroke-width="2.0"/>
<line x1="1704.80" x2="1826.40" y1="190.00" y2="190.00" stroke="#8e8e8e" stroke-width="2.0"/>
<line x1="1704.80" x2="1826.40" y1="786.90" y2="786.90" stroke="#8e8e8e" stroke-width="2.0"/>
<text transform="translate(1764.65 123.42) scale(1 1.04)" font-size="16.5" text-anchor="middle" fill="#0a0a0a" stroke="#0a0a0a" stroke-width="0.30">lncRNA on</text>
<text transform="translate(1764.65 143.38) scale(1 1.04)" font-size="16.5" text-anchor="middle" fill="#0a0a0a" stroke="#0a0a0a" stroke-width="0.30">chr21</text>
<line x1="779.50" x2="785.30" y1="762.00" y2="762.00" stroke="#6a6a6a" stroke-width="2"/>
<text transform="translate(771.60 769.15) scale(1 1.04)" font-size="20.5" text-anchor="end" fill="#111111" stroke="#111111" stroke-width="0.37">0</text>
<line x1="779.50" x2="785.30" y1="564.00" y2="564.00" stroke="#6a6a6a" stroke-width="2"/>
<text transform="translate(771.60 571.15) scale(1 1.04)" font-size="20.5" text-anchor="end" fill="#111111" stroke="#111111" stroke-width="0.37">10</text>
<line x1="779.50" x2="785.30" y1="366.00" y2="366.00" stroke="#6a6a6a" stroke-width="2"/>
<text transform="translate(771.60 373.15) scale(1 1.04)" font-size="20.5" text-anchor="end" fill="#111111" stroke="#111111" stroke-width="0.37">20</text>
<text transform="translate(729.20 489.30) rotate(-90) scale(1 1.04)" font-size="20.8" text-anchor="middle" fill="#000000" stroke="#000000" stroke-width="0.37">Normalized copy number</text>
<text transform="translate(1855.90 459.90) scale(1 1.04)" font-size="16.35" text-anchor="start" fill="#000000" stroke="#000000" stroke-width="0.29">Population</text>
<line x1="1874.60" x2="1874.60" y1="473.90" y2="501.50" stroke="#4a4a4a" stroke-width="1.8"/>
<rect x="1862.20" y="479.20" width="24.80" height="17.00" fill="#F8766D" stroke="#333333" stroke-width="1.7"/>
<line x1="1862.20" x2="1887.00" y1="487.60" y2="487.60" stroke="#333333" stroke-width="1.9"/>
<text transform="translate(1894.80 494.10) scale(1 1.04)" font-size="16.35" text-anchor="start" fill="#000000" stroke="#000000" stroke-width="0.29">Indicine</text>
<line x1="1874.60" x2="1874.60" y1="507.00" y2="534.70" stroke="#4a4a4a" stroke-width="1.8"/>
<rect x="1862.20" y="512.50" width="24.80" height="16.70" fill="#00BFC4" stroke="#333333" stroke-width="1.7"/>
<line x1="1862.20" x2="1887.00" y1="521.00" y2="521.00" stroke="#333333" stroke-width="1.9"/>
<text transform="translate(1894.80 526.70) scale(1 1.04)" font-size="16.35" text-anchor="start" fill="#000000" stroke="#000000" stroke-width="0.29" dx="0 -1.1">Taurine</text>
</g>
<g id="panel-c">
<text transform="translate(-1.20 876.20) scale(1 1.04)" font-size="40" text-anchor="start" font-weight="bold" fill="#000000">c</text>
<text transform="translate(76.40 892.10) scale(1 1.04)" font-size="32.95" text-anchor="start" fill="#000000" stroke="#000000" stroke-width="0.59">UOA_Brahman_1</text>
<g>
<rect x="72.50" y="1008.00" width="114.30" height="440.40" fill="#ffffff"/>
<line x1="72.50" x2="186.80" y1="1392.75" y2="1392.75" stroke="#f6f6f6" stroke-width="2"/>
<line x1="72.50" x2="186.80" y1="1309.65" y2="1309.65" stroke="#f6f6f6" stroke-width="2"/>
<line x1="72.50" x2="186.80" y1="1226.55" y2="1226.55" stroke="#f6f6f6" stroke-width="2"/>
<line x1="72.50" x2="186.80" y1="1143.45" y2="1143.45" stroke="#f6f6f6" stroke-width="2"/>
<line x1="72.50" x2="186.80" y1="1060.35" y2="1060.35" stroke="#f6f6f6" stroke-width="2"/>
<line x1="72.50" x2="186.80" y1="1434.30" y2="1434.30" stroke="#eeeeee" stroke-width="2"/>
<line x1="72.50" x2="186.80" y1="1351.20" y2="1351.20" stroke="#eeeeee" stroke-width="2"/>
<line x1="72.50" x2="186.80" y1="1268.10" y2="1268.10" stroke="#eeeeee" stroke-width="2"/>
<line x1="72.50" x2="186.80" y1="1185.00" y2="1185.00" stroke="#eeeeee" stroke-width="2"/>
<line x1="72.50" x2="186.80" y1="1101.90" y2="1101.90" stroke="#eeeeee" stroke-width="2"/>
<line x1="72.50" x2="186.80" y1="1018.80" y2="1018.80" stroke="#eeeeee" stroke-width="2"/>
<line x1="103.67" x2="103.67" y1="1008.00" y2="1448.40" stroke="#eeeeee" stroke-width="2"/>
<line x1="155.63" x2="155.63" y1="1008.00" y2="1448.40" stroke="#eeeeee" stroke-width="2"/>
</g>
<g>
<rect x="199.10" y="1008.00" width="115.10" height="440.40" fill="#ffffff"/>
<line x1="199.10" x2="314.20" y1="1392.75" y2="1392.75" stroke="#f6f6f6" stroke-width="2"/>
<line x1="199.10" x2="314.20" y1="1309.65" y2="1309.65" stroke="#f6f6f6" stroke-width="2"/>
<line x1="199.10" x2="314.20" y1="1226.55" y2="1226.55" stroke="#f6f6f6" stroke-width="2"/>
<line x1="199.10" x2="314.20" y1="1143.45" y2="1143.45" stroke="#f6f6f6" stroke-width="2"/>
<line x1="199.10" x2="314.20" y1="1060.35" y2="1060.35" stroke="#f6f6f6" stroke-width="2"/>
<line x1="199.10" x2="314.20" y1="1434.30" y2="1434.30" stroke="#eeeeee" stroke-width="2"/>
<line x1="199.10" x2="314.20" y1="1351.20" y2="1351.20" stroke="#eeeeee" stroke-width="2"/>
<line x1="199.10" x2="314.20" y1="1268.10" y2="1268.10" stroke="#eeeeee" stroke-width="2"/>
<line x1="199.10" x2="314.20" y1="1185.00" y2="1185.00" stroke="#eeeeee" stroke-width="2"/>
<line x1="199.10" x2="314.20" y1="1101.90" y2="1101.90" stroke="#eeeeee" stroke-width="2"/>
<line x1="199.10" x2="314.20" y1="1018.80" y2="1018.80" stroke="#eeeeee" stroke-width="2"/>
<line x1="230.49" x2="230.49" y1="1008.00" y2="1448.40" stroke="#eeeeee" stroke-width="2"/>
<line x1="282.81" x2="282.81" y1="1008.00" y2="1448.40" stroke="#eeeeee" stroke-width="2"/>
</g>
<g>
<rect x="326.60" y="1008.00" width="114.10" height="440.40" fill="#ffffff"/>
<line x1="326.60" x2="440.70" y1="1392.75" y2="1392.75" stroke="#f6f6f6" stroke-width="2"/>
<line x1="326.60" x2="440.70" y1="1309.65" y2="1309.65" stroke="#f6f6f6" stroke-width="2"/>
<line x1="326.60" x2="440.70" y1="1226.55" y2="1226.55" stroke="#f6f6f6" stroke-width="2"/>
<line x1="326.60" x2="440.70" y1="1143.45" y2="1143.45" stroke="#f6f6f6" stroke-width="2"/>
<line x1="326.60" x2="440.70" y1="1060.35" y2="1060.35" stroke="#f6f6f6" stroke-width="2"/>
<line x1="326.60" x2="440.70" y1="1434.30" y2="1434.30" stroke="#eeeeee" stroke-width="2"/>
<line x1="326.60" x2="440.70" y1="1351.20" y2="1351.20" stroke="#eeeeee" stroke-width="2"/>
<line x1="326.60" x2="440.70" y1="1268.10" y2="1268.10" stroke="#eeeeee" stroke-width="2"/>
<line x1="326.60" x2="440.70" y1="1185.00" y2="1185.00" stroke="#eeeeee" stroke-width="2"/>
<line x1="326.60" x2="440.70" y1="1101.90" y2="1101.90" stroke="#eeeeee" stroke-width="2"/>
<line x1="326.60" x2="440.70" y1="1018.80" y2="1018.80" stroke="#eeeeee" stroke-width="2"/>
<line x1="357.72" x2="357.72" y1="1008.00" y2="1448.40" stroke="#eeeeee" stroke-width="2"/>
<line x1="409.58" x2="409.58" y1="1008.00" y2="1448.40" stroke="#eeeeee" stroke-width="2"/>
</g>
<g>
<rect x="452.90" y="1008.00" width="113.90" height="440.40" fill="#ffffff"/>
<line x1="452.90" x2="566.80" y1="1392.75" y2="1392.75" stroke="#f6f6f6" stroke-width="2"/>
<line x1="452.90" x2="566.80" y1="1309.65" y2="1309.65" stroke="#f6f6f6" stroke-width="2"/>
<line x1="452.90" x2="566.80" y1="1226.55" y2="1226.55" stroke="#f6f6f6" stroke-width="2"/>
<line x1="452.90" x2="566.80" y1="1143.45" y2="1143.45" stroke="#f6f6f6" stroke-width="2"/>
<line x1="452.90" x2="566.80" y1="1060.35" y2="1060.35" stroke="#f6f6f6" stroke-width="2"/>
<line x1="452.90" x2="566.80" y1="1434.30" y2="1434.30" stroke="#eeeeee" stroke-width="2"/>
<line x1="452.90" x2="566.80" y1="1351.20" y2="1351.20" stroke="#eeeeee" stroke-width="2"/>
<line x1="452.90" x2="566.80" y1="1268.10" y2="1268.10" stroke="#eeeeee" stroke-width="2"/>
<line x1="452.90" x2="566.80" y1="1185.00" y2="1185.00" stroke="#eeeeee" stroke-width="2"/>
<line x1="452.90" x2="566.80" y1="1101.90" y2="1101.90" stroke="#eeeeee" stroke-width="2"/>
<line x1="452.90" x2="566.80" y1="1018.80" y2="1018.80" stroke="#eeeeee" stroke-width="2"/>
<line x1="483.96" x2="483.96" y1="1008.00" y2="1448.40" stroke="#eeeeee" stroke-width="2"/>
<line x1="535.74" x2="535.74" y1="1008.00" y2="1448.40" stroke="#eeeeee" stroke-width="2"/>
</g>
<g>
<rect x="578.80" y="1008.00" width="114.30" height="440.40" fill="#ffffff"/>
<line x1="578.80" x2="693.10" y1="1392.75" y2="1392.75" stroke="#f6f6f6" stroke-width="2"/>
<line x1="578.80" x2="693.10" y1="1309.65" y2="1309.65" stroke="#f6f6f6" stroke-width="2"/>
<line x1="578.80" x2="693.10" y1="1226.55" y2="1226.55" stroke="#f6f6f6" stroke-width="2"/>
<line x1="578.80" x2="693.10" y1="1143.45" y2="1143.45" stroke="#f6f6f6" stroke-width="2"/>
<line x1="578.80" x2="693.10" y1="1060.35" y2="1060.35" stroke="#f6f6f6" stroke-width="2"/>
<line x1="578.80" x2="693.10" y1="1434.30" y2="1434.30" stroke="#eeeeee" stroke-width="2"/>
<line x1="578.80" x2="693.10" y1="1351.20" y2="1351.20" stroke="#eeeeee" stroke-width="2"/>
<line x1="578.80" x2="693.10" y1="1268.10" y2="1268.10" stroke="#eeeeee" stroke-width="2"/>
<line x1="578.80" x2="693.10" y1="1185.00" y2="1185.00" stroke="#eeeeee" stroke-width="2"/>
<line x1="578.80" x2="693.10" y1="1101.90" y2="1101.90" stroke="#eeeeee" stroke-width="2"/>
<line x1="578.80" x2="693.10" y1="1018.80" y2="1018.80" stroke="#eeeeee" stroke-width="2"/>
<line x1="609.97" x2="609.97" y1="1008.00" y2="1448.40" stroke="#eeeeee" stroke-width="2"/>
<line x1="661.93" x2="661.93" y1="1008.00" y2="1448.40" stroke="#eeeeee" stroke-width="2"/>
</g>
<g>
<rect x="705.80" y="1008.00" width="114.80" height="440.40" fill="#ffffff"/>
<line x1="705.80" x2="820.60" y1="1392.75" y2="1392.75" stroke="#f6f6f6" stroke-width="2"/>
<line x1="705.80" x2="820.60" y1="1309.65" y2="1309.65" stroke="#f6f6f6" stroke-width="2"/>
<line x1="705.80" x2="820.60" y1="1226.55" y2="1226.55" stroke="#f6f6f6" stroke-width="2"/>
<line x1="705.80" x2="820.60" y1="1143.45" y2="1143.45" stroke="#f6f6f6" stroke-width="2"/>
<line x1="705.80" x2="820.60" y1="1060.35" y2="1060.35" stroke="#f6f6f6" stroke-width="2"/>
<line x1="705.80" x2="820.60" y1="1434.30" y2="1434.30" stroke="#eeeeee" stroke-width="2"/>
<line x1="705.80" x2="820.60" y1="1351.20" y2="1351.20" stroke="#eeeeee" stroke-width="2"/>
<line x1="705.80" x2="820.60" y1="1268.10" y2="1268.10" stroke="#eeeeee" stroke-width="2"/>
<line x1="705.80" x2="820.60" y1="1185.00" y2="1185.00" stroke="#eeeeee" stroke-width="2"/>
<line x1="705.80" x2="820.60" y1="1101.90" y2="1101.90" stroke="#eeeeee" stroke-width="2"/>
<line x1="705.80" x2="820.60" y1="1018.80" y2="1018.80" stroke="#eeeeee" stroke-width="2"/>
<line x1="737.11" x2="737.11" y1="1008.00" y2="1448.40" stroke="#eeeeee" stroke-width="2"/>
<line x1="789.29" x2="789.29" y1="1008.00" y2="1448.40" stroke="#eeeeee" stroke-width="2"/>
</g>
<line x1="103.80" x2="103.80" y1="1228.80" y2="1238.80" stroke="#4a4a4a" stroke-width="1.9"/>
<circle cx="103.80" cy="1303.30" r="4.7" fill="#333333"/>
<rect x="84.00" y="1238.80" width="39.60" height="14.00" fill="#F8766D" stroke="#333333" stroke-width="1.8"/>
<line x1="84.00" x2="123.60" y1="1242.30" y2="1242.30" stroke="#333333" stroke-width="3.5"/>
<line x1="156.40" x2="156.40" y1="1060.30" y2="1141.80" stroke="#4a4a4a" stroke-width="1.9"/>
<line x1="156.40" x2="156.40" y1="1199.40" y2="1238.50" stroke="#4a4a4a" stroke-width="1.9"/>
<circle cx="156.40" cy="1028.60" r="4.7" fill="#333333"/>
<rect x="136.60" y="1141.80" width="39.60" height="57.60" fill="#00BFC4" stroke="#333333" stroke-width="1.8"/>
<line x1="136.60" x2="176.20" y1="1163.00" y2="1163.00" stroke="#333333" stroke-width="3.5"/>
<line x1="230.30" x2="230.30" y1="1374.10" y2="1378.50" stroke="#868686" stroke-width="2.8"/>
<line x1="230.30" x2="230.30" y1="1398.40" y2="1406.60" stroke="#868686" stroke-width="2.8"/>
<rect x="210.50" y="1378.50" width="39.60" height="19.90" fill="#F8766D" stroke="#333333" stroke-width="1.8"/>
<line x1="210.50" x2="250.10" y1="1388.00" y2="1388.00" stroke="#333333" stroke-width="3.5"/>
<line x1="283.00" x2="283.00" y1="1407.40" y2="1412.80" stroke="#868686" stroke-width="2.8"/>
<line x1="283.00" x2="283.00" y1="1420.20" y2="1427.10" stroke="#868686" stroke-width="2.8"/>
<rect x="263.20" y="1412.80" width="39.60" height="7.40" fill="#00BFC4" stroke="#333333" stroke-width="1.8"/>
<line x1="263.20" x2="302.80" y1="1416.60" y2="1416.60" stroke="#333333" stroke-width="3.5"/>
<line x1="357.40" x2="357.40" y1="1372.30" y2="1380.00" stroke="#868686" stroke-width="2.8"/>
<rect x="337.60" y="1363.10" width="39.60" height="9.20" fill="#F8766D" stroke="#333333" stroke-width="1.8"/>
<line x1="337.60" x2="377.20" y1="1365.40" y2="1365.40" stroke="#333333" stroke-width="3.5"/>
<line x1="409.90" x2="409.90" y1="1380.50" y2="1390.50" stroke="#4a4a4a" stroke-width="1.9"/>
<line x1="409.90" x2="409.90" y1="1405.60" y2="1415.80" stroke="#4a4a4a" stroke-width="1.9"/>
<circle cx="409.90" cy="1362.10" r="4.7" fill="#333333"/>
<circle cx="409.90" cy="1366.50" r="4.7" fill="#333333"/>
<rect x="390.10" y="1390.50" width="39.60" height="15.10" fill="#00BFC4" stroke="#333333" stroke-width="1.8"/>
<line x1="390.10" x2="429.70" y1="1397.90" y2="1397.90" stroke="#333333" stroke-width="3.5"/>
<circle cx="483.50" cy="1391.80" r="4.7" fill="#333333"/>
<rect x="463.70" y="1413.20" width="39.60" height="5.00" fill="#F8766D" stroke="#333333" stroke-width="1.8"/>
<line x1="463.70" x2="503.30" y1="1415.60" y2="1415.60" stroke="#333333" stroke-width="3.5"/>
<line x1="535.90" x2="535.90" y1="1343.40" y2="1370.80" stroke="#4a4a4a" stroke-width="1.9"/>
<line x1="535.90" x2="535.90" y1="1392.00" y2="1400.50" stroke="#4a4a4a" stroke-width="1.9"/>
<rect x="516.10" y="1370.80" width="39.60" height="21.20" fill="#00BFC4" stroke="#333333" stroke-width="1.8"/>
<line x1="516.10" x2="555.70" y1="1383.60" y2="1383.60" stroke="#333333" stroke-width="3.5"/>
<circle cx="610.10" cy="1376.40" r="4.7" fill="#333333"/>
<circle cx="610.10" cy="1417.90" r="4.7" fill="#333333"/>
<rect x="590.30" y="1412.80" width="39.60" height="3.60" fill="#F8766D" stroke="#333333" stroke-width="1.8"/>
<line x1="590.30" x2="629.90" y1="1414.50" y2="1414.50" stroke="#333333" stroke-width="3.5"/>
<line x1="663.00" x2="663.00" y1="1320.70" y2="1349.80" stroke="#868686" stroke-width="2.8"/>
<line x1="663.00" x2="663.00" y1="1379.80" y2="1408.70" stroke="#868686" stroke-width="2.8"/>
<circle cx="663.00" cy="1287.60" r="4.7" fill="#333333"/>
<rect x="643.20" y="1349.80" width="39.60" height="30.00" fill="#00BFC4" stroke="#333333" stroke-width="1.8"/>
<line x1="643.20" x2="682.80" y1="1366.00" y2="1366.00" stroke="#333333" stroke-width="3.5"/>
<circle cx="736.80" cy="1407.90" r="4.7" fill="#333333"/>
<rect x="717.00" y="1378.70" width="39.60" height="9.50" fill="#F8766D" stroke="#333333" stroke-width="1.8"/>
<line x1="717.00" x2="756.60" y1="1380.50" y2="1380.50" stroke="#333333" stroke-width="3.5"/>
<line x1="789.60" x2="789.60" y1="1399.20" y2="1411.20" stroke="#4a4a4a" stroke-width="1.9"/>
<line x1="789.60" x2="789.60" y1="1421.50" y2="1428.40" stroke="#4a4a4a" stroke-width="1.9"/>
<rect x="769.80" y="1411.20" width="39.60" height="10.30" fill="#00BFC4" stroke="#333333" stroke-width="1.8"/>
<line x1="769.80" x2="809.40" y1="1416.40" y2="1416.40" stroke="#333333" stroke-width="3.5"/>
<rect x="72.50" y="919.50" width="114.30" height="88.50" fill="#d9d9d9"/>
<line x1="72.50" x2="72.50" y1="918.50" y2="1449.40" stroke="#8e8e8e" stroke-width="2.0"/>
<line x1="186.80" x2="186.80" y1="918.50" y2="1449.40" stroke="#8e8e8e" stroke-width="2.0"/>
<line x1="71.50" x2="187.80" y1="919.50" y2="919.50" stroke="#8e8e8e" stroke-width="2.0"/>
<line x1="71.50" x2="187.80" y1="1008.00" y2="1008.00" stroke="#8e8e8e" stroke-width="2.0"/>
<line x1="71.50" x2="187.80" y1="1448.40" y2="1448.40" stroke="#8e8e8e" stroke-width="2.0"/>
<text transform="translate(130.75 940.76) scale(1 1.04)" font-size="16.5" text-anchor="middle" fill="#0a0a0a" stroke="#0a0a0a" stroke-width="0.30">Ubiqitin-</text>
<text transform="translate(130.75 960.72) scale(1 1.04)" font-size="16.5" text-anchor="middle" fill="#0a0a0a" stroke="#0a0a0a" stroke-width="0.30">conjugating</text>
<text transform="translate(130.75 980.68) scale(1 1.04)" font-size="16.5" text-anchor="middle" fill="#0a0a0a" stroke="#0a0a0a" stroke-width="0.30">enzyme</text>
<text transform="translate(130.75 1000.64) scale(1 1.04)" font-size="16.5" text-anchor="middle" fill="#0a0a0a" stroke="#0a0a0a" stroke-width="0.30">E2D3</text>
<rect x="199.10" y="919.50" width="115.10" height="88.50" fill="#d9d9d9"/>
<line x1="199.10" x2="199.10" y1="918.50" y2="1449.40" stroke="#c6c6c6" stroke-width="3.0"/>
<line x1="314.20" x2="314.20" y1="918.50" y2="1449.40" stroke="#8e8e8e" stroke-width="2.0"/>
<line x1="198.10" x2="315.20" y1="919.50" y2="919.50" stroke="#8e8e8e" stroke-width="2.0"/>
<line x1="198.10" x2="315.20" y1="1008.00" y2="1008.00" stroke="#8e8e8e" stroke-width="2.0"/>
<line x1="198.10" x2="315.20" y1="1448.40" y2="1448.40" stroke="#8e8e8e" stroke-width="2.0"/>
<text transform="translate(255.15 950.74) scale(1 1.04)" font-size="16.5" text-anchor="middle" fill="#0a0a0a" stroke="#0a0a0a" stroke-width="0.30">Enteric</text>
<text transform="translate(255.15 970.70) scale(1 1.04)" font-size="16.5" text-anchor="middle" fill="#0a0a0a" stroke="#0a0a0a" stroke-width="0.30">beta-defensin</text>
<text transform="translate(255.15 990.66) scale(1 1.04)" font-size="16.5" text-anchor="middle" fill="#0a0a0a" stroke="#0a0a0a" stroke-width="0.30">precursor</text>
<rect x="326.60" y="919.50" width="114.10" height="88.50" fill="#d9d9d9"/>
<line x1="326.60" x2="326.60" y1="918.50" y2="1449.40" stroke="#8e8e8e" stroke-width="2.0"/>
<line x1="440.70" x2="440.70" y1="918.50" y2="1449.40" stroke="#8e8e8e" stroke-width="2.0"/>
<line x1="325.60" x2="441.70" y1="919.50" y2="919.50" stroke="#8e8e8e" stroke-width="2.0"/>
<line x1="325.60" x2="441.70" y1="1008.00" y2="1008.00" stroke="#8e8e8e" stroke-width="2.0"/>
<line x1="325.60" x2="441.70" y1="1448.40" y2="1448.40" stroke="#8e8e8e" stroke-width="2.0"/>
<text transform="translate(383.90 950.74) scale(1 1.04)" font-size="16.5" text-anchor="middle" fill="#0a0a0a" stroke="#0a0a0a" stroke-width="0.30">Beta-defensin</text>
<text transform="translate(383.90 970.70) scale(1 1.04)" font-size="16.5" text-anchor="middle" fill="#0a0a0a" stroke="#0a0a0a" stroke-width="0.30">like</text>
<text transform="translate(383.90 990.66) scale(1 1.04)" font-size="16.5" text-anchor="middle" fill="#0a0a0a" stroke="#0a0a0a" stroke-width="0.30">precursor</text>
<rect x="452.90" y="919.50" width="113.90" height="88.50" fill="#d9d9d9"/>
<line x1="452.90" x2="452.90" y1="918.50" y2="1449.40" stroke="#8e8e8e" stroke-width="2.0"/>
<line x1="566.80" x2="566.80" y1="918.50" y2="1449.40" stroke="#8e8e8e" stroke-width="2.0"/>
<line x1="451.90" x2="567.80" y1="919.50" y2="919.50" stroke="#8e8e8e" stroke-width="2.0"/>
<line x1="451.90" x2="567.80" y1="1008.00" y2="1008.00" stroke="#8e8e8e" stroke-width="2.0"/>
<line x1="451.90" x2="567.80" y1="1448.40" y2="1448.40" stroke="#8e8e8e" stroke-width="2.0"/>
<text transform="translate(508.85 940.76) scale(1 1.04)" font-size="16.5" text-anchor="middle" fill="#0a0a0a" stroke="#0a0a0a" stroke-width="0.30">Keratin-</text>
<text transform="translate(508.85 960.72) scale(1 1.04)" font-size="16.5" text-anchor="middle" fill="#0a0a0a" stroke="#0a0a0a" stroke-width="0.30">associated</text>
<text transform="translate(508.85 980.68) scale(1 1.04)" font-size="16.5" text-anchor="middle" fill="#0a0a0a" stroke="#0a0a0a" stroke-width="0.30">protein</text>
<text transform="translate(508.85 1000.64) scale(1 1.04)" font-size="16.5" text-anchor="middle" fill="#0a0a0a" stroke="#0a0a0a" stroke-width="0.30">9-1</text>
<rect x="578.80" y="919.50" width="114.30" height="88.50" fill="#d9d9d9"/>
<line x1="578.80" x2="578.80" y1="918.50" y2="1449.40" stroke="#8e8e8e" stroke-width="2.0"/>
<line x1="693.10" x2="693.10" y1="918.50" y2="1449.40" stroke="#c6c6c6" stroke-width="3.0"/>
<line x1="577.80" x2="694.10" y1="919.50" y2="919.50" stroke="#8e8e8e" stroke-width="2.0"/>
<line x1="577.80" x2="694.10" y1="1008.00" y2="1008.00" stroke="#8e8e8e" stroke-width="2.0"/>
<line x1="577.80" x2="694.10" y1="1448.40" y2="1448.40" stroke="#8e8e8e" stroke-width="2.0"/>
<text transform="translate(636.25 940.76) scale(1 1.04)" font-size="16.5" text-anchor="middle" fill="#0a0a0a" stroke="#0a0a0a" stroke-width="0.30">Keratin-</text>
<text transform="translate(636.25 960.72) scale(1 1.04)" font-size="16.5" text-anchor="middle" fill="#0a0a0a" stroke="#0a0a0a" stroke-width="0.30">associated</text>
<text transform="translate(636.25 980.68) scale(1 1.04)" font-size="16.5" text-anchor="middle" fill="#0a0a0a" stroke="#0a0a0a" stroke-width="0.30">protein</text>
<text transform="translate(636.25 1000.64) scale(1 1.04)" font-size="16.5" text-anchor="middle" fill="#0a0a0a" stroke="#0a0a0a" stroke-width="0.30">9-2</text>
<rect x="705.80" y="919.50" width="114.80" height="88.50" fill="#d9d9d9"/>
<line x1="705.80" x2="705.80" y1="918.50" y2="1449.40" stroke="#c6c6c6" stroke-width="3.0"/>
<line x1="820.60" x2="820.60" y1="918.50" y2="1449.40" stroke="#8e8e8e" stroke-width="2.0"/>
<line x1="704.80" x2="821.60" y1="919.50" y2="919.50" stroke="#8e8e8e" stroke-width="2.0"/>
<line x1="704.80" x2="821.60" y1="1008.00" y2="1008.00" stroke="#8e8e8e" stroke-width="2.0"/>
<line x1="704.80" x2="821.60" y1="1448.40" y2="1448.40" stroke="#8e8e8e" stroke-width="2.0"/>
<text transform="translate(762.05 960.72) scale(1 1.04)" font-size="16.5" text-anchor="middle" fill="#0a0a0a" stroke="#0a0a0a" stroke-width="0.30">lncRNA on</text>
<text transform="translate(762.05 980.68) scale(1 1.04)" font-size="16.5" text-anchor="middle" fill="#0a0a0a" stroke="#0a0a0a" stroke-width="0.30">chr27</text>
<line x1="65.70" x2="71.50" y1="1434.30" y2="1434.30" stroke="#6a6a6a" stroke-width="2"/>
<text transform="translate(58.90 1440.85) scale(1 1.04)" font-size="20.5" text-anchor="end" fill="#111111" stroke="#111111" stroke-width="0.37">0</text>
<line x1="65.70" x2="71.50" y1="1351.20" y2="1351.20" stroke="#6a6a6a" stroke-width="2"/>
<text transform="translate(58.90 1357.75) scale(1 1.04)" font-size="20.5" text-anchor="end" fill="#111111" stroke="#111111" stroke-width="0.37">5</text>
<line x1="65.70" x2="71.50" y1="1268.10" y2="1268.10" stroke="#6a6a6a" stroke-width="2"/>
<text transform="translate(58.90 1274.65) scale(1 1.04)" font-size="20.5" text-anchor="end" fill="#111111" stroke="#111111" stroke-width="0.37">10</text>
<line x1="65.70" x2="71.50" y1="1185.00" y2="1185.00" stroke="#6a6a6a" stroke-width="2"/>
<text transform="translate(58.90 1191.55) scale(1 1.04)" font-size="20.5" text-anchor="end" fill="#111111" stroke="#111111" stroke-width="0.37">15</text>
<line x1="65.70" x2="71.50" y1="1101.90" y2="1101.90" stroke="#6a6a6a" stroke-width="2"/>
<text transform="translate(58.90 1108.45) scale(1 1.04)" font-size="20.5" text-anchor="end" fill="#111111" stroke="#111111" stroke-width="0.37">20</text>
<line x1="65.70" x2="71.50" y1="1018.80" y2="1018.80" stroke="#6a6a6a" stroke-width="2"/>
<text transform="translate(58.90 1025.35) scale(1 1.04)" font-size="20.5" text-anchor="end" fill="#111111" stroke="#111111" stroke-width="0.37">25</text>
<text transform="translate(17.40 1225.60) rotate(-90) scale(1 1.04)" font-size="20.9" text-anchor="middle" fill="#000000" stroke="#000000" stroke-width="0.38">Normalized copy number</text>
<text transform="translate(853.30 1195.50) scale(1 1.04)" font-size="16.35" text-anchor="start" fill="#000000" stroke="#000000" stroke-width="0.29">Population</text>
<line x1="869.65" x2="869.65" y1="1213.40" y2="1241.00" stroke="#4a4a4a" stroke-width="1.8"/>
<rect x="856.60" y="1219.40" width="26.10" height="16.20" fill="#F8766D" stroke="#333333" stroke-width="1.7"/>
<line x1="856.60" x2="882.70" y1="1227.80" y2="1227.80" stroke="#333333" stroke-width="1.9"/>
<text transform="translate(891.90 1229.60) scale(1 1.04)" font-size="16.35" text-anchor="start" fill="#000000" stroke="#000000" stroke-width="0.29">Indicine</text>
<line x1="869.65" x2="869.65" y1="1246.40" y2="1274.30" stroke="#4a4a4a" stroke-width="1.8"/>
<rect x="856.60" y="1252.30" width="26.10" height="16.50" fill="#00BFC4" stroke="#333333" stroke-width="1.7"/>
<line x1="856.60" x2="882.70" y1="1260.30" y2="1260.30" stroke="#333333" stroke-width="1.9"/>
<text transform="translate(891.90 1262.80) scale(1 1.04)" font-size="16.35" text-anchor="start" fill="#000000" stroke="#000000" stroke-width="0.29" dx="0 -1.1">Taurine</text>
</g>
<g id="panel-d">
<text transform="translate(985.00 876.60) scale(1 1.04)" font-size="40.5" text-anchor="start" font-weight="bold" fill="#000000">d</text>
<rect x="1198.0" y="1102.8" width="640.3" height="98.9" fill="#efefef"/>
<rect x="1198.0" y="1302.0" width="640.3" height="99.0" fill="#efefef"/>
<line x1="1199.5" x2="1199.5" y1="930.7" y2="1096.5" stroke="#555555" stroke-width="1.9"/>
<line x1="1193.0" x2="1199.5" y1="1095.6" y2="1095.6" stroke="#555555" stroke-width="1.9"/>
<text transform="translate(1184.30 1101.60) scale(1 1.04)" font-size="16.3" text-anchor="end" fill="#000000" stroke="#000000" stroke-width="0.29">0</text>
<line x1="1193.0" x2="1199.5" y1="1041.4" y2="1041.4" stroke="#555555" stroke-width="1.9"/>
<text transform="translate(1184.30 1048.10) scale(1 1.04)" font-size="16.3" text-anchor="end" fill="#000000" stroke="#000000" stroke-width="0.29">5e + 06</text>
<line x1="1193.0" x2="1199.5" y1="986.3" y2="986.3" stroke="#555555" stroke-width="1.9"/>
<text transform="translate(1184.30 993.00) scale(1 1.04)" font-size="16.3" text-anchor="end" fill="#000000" stroke="#000000" stroke-width="0.29">1e + 07</text>
<line x1="1193.0" x2="1199.5" y1="931.6" y2="931.6" stroke="#555555" stroke-width="1.9"/>
<text transform="translate(1184.30 937.70) scale(1 1.04)" font-size="16.3" text-anchor="end" fill="#000000" stroke="#000000" stroke-width="0.29">1.5e + 07</text>
<text transform="translate(1113.60 1003.60) scale(1 1.04)" font-size="24.9" text-anchor="end" fill="#000000" stroke="#000000" stroke-width="0.45">Intersection</text>
<text transform="translate(1113.60 1033.60) scale(1 1.04)" font-size="24.9" text-anchor="end" fill="#000000" stroke="#000000" stroke-width="0.45">size</text>
<rect x="1216.30" y="1091.10" width="56.4" height="5.40" fill="#000000"/>
<rect x="1307.40" y="1089.00" width="56.4" height="7.50" fill="#0633ff"/>
<rect x="1398.80" y="1084.00" width="56.4" height="12.50" fill="#0633ff"/>
<rect x="1490.30" y="1080.30" width="56.4" height="16.20" fill="#0633ff"/>
<rect x="1581.60" y="938.00" width="56.4" height="158.50" fill="#ff2600"/>
<rect x="1672.80" y="976.40" width="56.4" height="120.10" fill="#ff2600"/>
<rect x="1764.10" y="995.60" width="56.4" height="100.90" fill="#ff2600"/>
<line x1="1244.50" x2="1244.50" y1="1151.70" y2="1351.50" stroke="#000000" stroke-width="4"/>
<line x1="1335.60" x2="1335.60" y1="1151.70" y2="1251.70" stroke="#0633ff" stroke-width="4"/>
<circle cx="1335.60" cy="1351.50" r="10.2" fill="#cbcbcb"/>
<line x1="1427.00" x2="1427.00" y1="1151.70" y2="1351.50" stroke="#0633ff" stroke-width="4"/>
<circle cx="1427.00" cy="1251.70" r="10.2" fill="#cbcbcb"/>
<line x1="1518.50" x2="1518.50" y1="1251.70" y2="1351.50" stroke="#0633ff" stroke-width="4"/>
<circle cx="1518.50" cy="1151.70" r="10.2" fill="#cbcbcb"/>
<circle cx="1609.80" cy="1251.70" r="10.2" fill="#cbcbcb"/>
<circle cx="1609.80" cy="1351.50" r="10.2" fill="#cbcbcb"/>
<circle cx="1701.00" cy="1151.70" r="10.2" fill="#cbcbcb"/>
<circle cx="1701.00" cy="1351.50" r="10.2" fill="#cbcbcb"/>
<circle cx="1792.30" cy="1151.70" r="10.2" fill="#cbcbcb"/>
<circle cx="1792.30" cy="1251.70" r="10.2" fill="#cbcbcb"/>
<line x1="1244.50" x2="1244.50" y1="1151.70" y2="1351.50" stroke="#000000" stroke-width="4"/>
<circle cx="1244.50" cy="1151.70" r="10.2" fill="#000000"/>
<circle cx="1244.50" cy="1251.70" r="10.2" fill="#000000"/>
<circle cx="1244.50" cy="1351.50" r="10.2" fill="#000000"/>
<line x1="1335.60" x2="1335.60" y1="1151.70" y2="1251.70" stroke="#0633ff" stroke-width="4"/>
<circle cx="1335.60" cy="1151.70" r="10.2" fill="#0633ff"/>
<circle cx="1335.60" cy="1251.70" r="10.2" fill="#0633ff"/>
<line x1="1427.00" x2="1427.00" y1="1151.70" y2="1351.50" stroke="#0633ff" stroke-width="4"/>
<circle cx="1427.00" cy="1151.70" r="10.2" fill="#0633ff"/>
<circle cx="1427.00" cy="1351.50" r="10.2" fill="#0633ff"/>
<line x1="1518.50" x2="1518.50" y1="1251.70" y2="1351.50" stroke="#0633ff" stroke-width="4"/>
<circle cx="1518.50" cy="1251.70" r="10.2" fill="#0633ff"/>
<circle cx="1518.50" cy="1351.50" r="10.2" fill="#0633ff"/>
<circle cx="1609.80" cy="1151.70" r="10.2" fill="#ff2600"/>
<circle cx="1701.00" cy="1251.70" r="10.2" fill="#ff2600"/>
<circle cx="1792.30" cy="1351.50" r="10.2" fill="#ff2600"/>
<text transform="translate(1190.50 1160.80) scale(1 1.04)" font-size="24.8" text-anchor="end" fill="#000000" stroke="#000000" stroke-width="0.45">Hereford</text>
<text transform="translate(1190.30 1260.60) scale(1 1.04)" font-size="24.8" text-anchor="end" fill="#000000" stroke="#000000" stroke-width="0.45">Brahman</text>
<text transform="translate(1191.30 1360.00) scale(1 1.04)" font-size="24.8" text-anchor="end" fill="#000000" stroke="#000000" stroke-width="0.45">Angus</text>
<rect x="1842.4" y="1121.2" width="106.50" height="60.90" fill="#000000"/>
<rect x="1842.4" y="1221.5" width="86.80" height="61.00" fill="#000000"/>
<rect x="1842.4" y="1321.0" width="77.80" height="61.00" fill="#000000"/>
<line x1="1842.3" x2="1954" y1="1401.0" y2="1401.0" stroke="#8c8c8c" stroke-width="2.4"/>
<line x1="1843.1" x2="1843.1" y1="1401.0" y2="1407.0" stroke="#4d4d4d" stroke-width="1.6"/>
<text transform="translate(1848.50 1415.00) rotate(-90) scale(1 1.04)" font-size="16.65" text-anchor="end" fill="#000000" stroke="#000000" stroke-width="0.30">0</text>
<line x1="1875.7" x2="1875.7" y1="1401.0" y2="1407.0" stroke="#4d4d4d" stroke-width="1.6"/>
<text transform="translate(1880.50 1415.00) rotate(-90) scale(1 1.04)" font-size="16.65" text-anchor="end" fill="#000000" stroke="#000000" stroke-width="0.30">5e + 06</text>
<line x1="1907.3" x2="1907.3" y1="1401.0" y2="1407.0" stroke="#4d4d4d" stroke-width="1.6"/>
<text transform="translate(1913.90 1415.00) rotate(-90) scale(1 1.04)" font-size="16.65" text-anchor="end" fill="#000000" stroke="#000000" stroke-width="0.30">1e + 07</text>
<line x1="1940.0" x2="1940.0" y1="1401.0" y2="1407.0" stroke="#4d4d4d" stroke-width="1.6"/>
<text transform="translate(1945.80 1415.00) rotate(-90) scale(1 1.04)" font-size="16.65" text-anchor="end" fill="#000000" stroke="#000000" stroke-width="0.30">1.5e + 07</text>
<text transform="translate(1895.50 1515.20) scale(1 1.04)" font-size="24.95" text-anchor="middle" fill="#000000" stroke="#000000" stroke-width="0.45">Set size</text>
</g>
</g>
</svg>
</body>
</html>
